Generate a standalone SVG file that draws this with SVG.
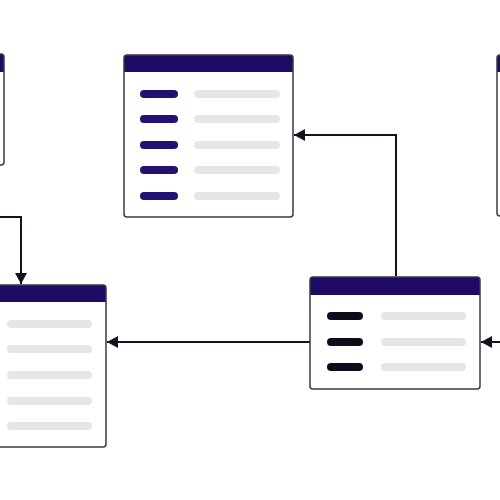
<svg xmlns="http://www.w3.org/2000/svg" width="500" height="500" viewBox="0 0 500 500">
<style>
.box{fill:#fff;stroke:none}
.frame{fill:none;stroke:#3a3a46;stroke-width:1.5}
.hdr{fill:#1f0b66}
.key{stroke:#231070;stroke-width:8;stroke-linecap:round}
.keyd{stroke:#0e0c1c;stroke-width:8;stroke-linecap:round}
.val{stroke:#e6e6e6;stroke-width:8;stroke-linecap:round}
.conn{fill:none;stroke:#14121f;stroke-width:2}
</style>
<defs>
<marker id="ah" markerUnits="userSpaceOnUse" markerWidth="12" markerHeight="12" refX="11" refY="6" orient="auto">
<path d="M0,0 L11,6 L0,12 Z" fill="#14121f"/>
</marker>
</defs>
<rect width="500" height="500" fill="#fff"/>

<g id="connectors">
<path class="conn" d="M396,276 V135 H294" marker-end="url(#ah)"/>
<path class="conn" d="M310,342 H107" marker-end="url(#ah)"/>
<path class="conn" d="M500,342 H481" marker-end="url(#ah)"/>
<path class="conn" d="M0,217 H21 V284" marker-end="url(#ah)"/>
</g>

<g id="table-top-left">
<rect class="box" x="-165" y="54" width="169" height="111" rx="3"/>
<path class="hdr" d="M-165,72 V57 a3,3 0 0 1 3,-3 H1 a3,3 0 0 1 3,3 V72 Z"/>
<rect class="frame" x="-165" y="54" width="169" height="111" rx="3"/>
</g>

<g id="table-top-center">
<rect class="box" x="124" y="55" width="169" height="162" rx="3"/>
<path class="hdr" d="M124,72 V58 a3,3 0 0 1 3,-3 H290 a3,3 0 0 1 3,3 V72 Z"/>
<rect class="frame" x="124" y="55" width="169" height="162" rx="3"/>
<line class="key" x1="144" y1="94" x2="174" y2="94"/>
<line class="key" x1="144" y1="119" x2="174" y2="119"/>
<line class="key" x1="144" y1="145" x2="174" y2="145"/>
<line class="key" x1="144" y1="170" x2="174" y2="170"/>
<line class="key" x1="144" y1="196" x2="174" y2="196"/>
<line class="val" x1="198" y1="94" x2="276" y2="94"/>
<line class="val" x1="198" y1="119" x2="276" y2="119"/>
<line class="val" x1="198" y1="145" x2="276" y2="145"/>
<line class="val" x1="198" y1="170" x2="276" y2="170"/>
<line class="val" x1="198" y1="196" x2="276" y2="196"/>
</g>

<g id="table-top-right">
<rect class="box" x="497" y="55" width="169" height="161" rx="3"/>
<path class="hdr" d="M497,72 V58 a3,3 0 0 1 3,-3 H663 a3,3 0 0 1 3,3 V72 Z"/>
<rect class="frame" x="497" y="55" width="169" height="161" rx="3"/>
</g>

<g id="table-bottom-left">
<rect class="box" x="-63" y="285" width="169" height="162" rx="3"/>
<path class="hdr" d="M-63,302 V288 a3,3 0 0 1 3,-3 H103 a3,3 0 0 1 3,3 V302 Z"/>
<rect class="frame" x="-63" y="285" width="169" height="162" rx="3"/>
<line class="val" x1="11" y1="324" x2="88" y2="324"/>
<line class="val" x1="11" y1="349" x2="88" y2="349"/>
<line class="val" x1="11" y1="375" x2="88" y2="375"/>
<line class="val" x1="11" y1="401" x2="88" y2="401"/>
<line class="val" x1="11" y1="426" x2="88" y2="426"/>
</g>

<g id="table-right">
<rect class="box" x="310" y="277" width="170" height="112" rx="3"/>
<path class="hdr" d="M310,295 V280 a3,3 0 0 1 3,-3 H477 a3,3 0 0 1 3,3 V295 Z"/>
<rect class="frame" x="310" y="277" width="170" height="112" rx="3"/>
<line class="keyd" x1="331" y1="316" x2="359" y2="316"/>
<line class="keyd" x1="331" y1="342" x2="359" y2="342"/>
<line class="keyd" x1="331" y1="367" x2="359" y2="367"/>
<line class="val" x1="385" y1="316" x2="462" y2="316"/>
<line class="val" x1="385" y1="342" x2="462" y2="342"/>
<line class="val" x1="385" y1="367" x2="462" y2="367"/>
</g>
</svg>
